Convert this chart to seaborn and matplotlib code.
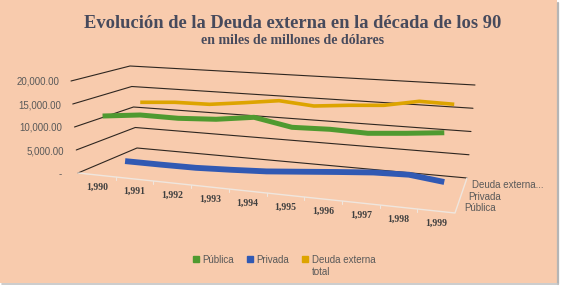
import matplotlib
matplotlib.use("Agg")
import matplotlib.pyplot as plt
import numpy as np
import pandas as pd
import seaborn as sns
from matplotlib.lines import Line2D
from matplotlib.patches import Rectangle

# datos (millones de USD)
anios = ["1,990", "1,991", "1,992", "1,993", "1,994", "1,995", "1,996", "1,997", "1,998", "1,999"]
publica = [12040, 12940, 12890, 13330, 14380, 12930, 13150, 12960, 13570, 14280]
privada = [260, 260, 320, 650, 1050, 1720, 2380, 2980, 3210, 2400]
deuda_total = [12220, 12800, 12900, 13830, 14820, 14160, 14840, 15340, 16700, 16540]
series = ["Pública", "Privada", "Deuda externa total"]
etiquetas_fondo = ["Pública", "Privada", "Deuda externa..."]
ticks_y = [0, 5000, 10000, 15000, 20000]
y_max = 20000

colores = {"Pública": "#4F9A30", "Privada": "#3159B3", "Deuda externa total": "#DDA400"}
grosor = {"Pública": 3.6, "Privada": 4.2, "Deuda externa total": 2.6}
fondo = "#F8CBAD"

# caja 3D simulada: esquinas del suelo (px) y vector vertical para y_max
F0, F1 = np.array([78, 173]), np.array([455, 213])
B0, B1 = np.array([137, 148]), np.array([467, 178])
VF0, VF1 = np.array([-7, -92]), np.array([9, -104])
VB0, VB1 = np.array([-7, -82]), np.array([8, -93])


def bilineal(a, b, c, d, u, w):
    return (1 - u) * (1 - w) * a + u * (1 - w) * b + (1 - u) * w * c + u * w * d


def proyectar(u, w, v):
    p = bilineal(F0, F1, B0, B1, u, w) + (v / y_max) * bilineal(VF0, VF1, VB0, VB1, u, w)
    return p[0], p[1]


sns.set_theme(style="white")
plt.rcParams["font.family"] = ["Liberation Sans", "DejaVu Sans"]

fig = plt.figure(figsize=(5.64, 2.87), dpi=100, facecolor="white")
ax = fig.add_axes([0, 0, 1, 1])
ax.add_patch(Rectangle((0, 0), 557, 283, facecolor=fondo, edgecolor="none", zorder=0))
ax.plot([557.5, 557.5], [3, 284], color="#B5B5B5", lw=1.6, zorder=0)
ax.plot([2, 558], [283.6, 283.6], color="#C4C4C4", lw=1.2, zorder=0)

# lineas de division (pared lateral + pared del fondo)
for v in ticks_y:
    pts = [proyectar(0, 0, v), proyectar(0, 1, v), proyectar(1, 1, v)]
    ax.plot([p[0] for p in pts], [p[1] for p in pts], color="#2E2620", lw=0.8, zorder=1)
    x0, y0 = proyectar(0, 0, v)
    txt = "-" if v == 0 else f"{v:,.2f}"
    ax.text(x0 - (16 if v == 0 else 12), y0 + 1, txt, ha="right", va="center",
            fontsize=7, color="#595959")

# bordes del suelo
suelo = [proyectar(0, 0, 0), proyectar(1, 0, 0), proyectar(1, 1, 0)]
ax.plot([p[0] for p in suelo], [p[1] for p in suelo], color="#EFE6DE", lw=1.0, zorder=1)
for k in range(1, len(anios)):
    x, y = proyectar(k / len(anios), 0, 0)
    ax.plot([x, x], [y, y + 3], color="#EFE6DE", lw=0.8, zorder=1)

# etiquetas de categorias
for i, a in enumerate(anios):
    x, y = proyectar((i + 0.5) / len(anios), 0, 0)
    ax.text(x, y + 12, a, ha="center", va="center", fontsize=7, fontweight="bold",
            family="Liberation Serif", color="#3F3F3F")

# etiquetas de profundidad
profundidad = {s: (k + 0.5) / len(series) for k, s in enumerate(series)}
for s, et in zip(series, etiquetas_fondo):
    x, y = proyectar(1, profundidad[s], 0)
    ax.text(x + 7, y + 1, et, ha="left", va="center", fontsize=7, color="#595959")

# series proyectadas
filas = []
for s, vals in zip(series, [publica, privada, deuda_total]):
    for i, v in enumerate(vals):
        x, y = proyectar((i + 0.5) / len(anios), profundidad[s], v)
        filas.append({"serie": s, "anio": anios[i], "px": x, "py": y})
df = pd.DataFrame(filas)

for s in reversed(series):
    sns.lineplot(data=df[df["serie"] == s], x="px", y="py", sort=False, estimator=None,
                 color=colores[s], lw=grosor[s], solid_capstyle="butt", ax=ax,
                 legend=False, zorder=3)

ax.text(293, 24, "Evolución de la Deuda externa en la década de los 90", ha="center",
        va="center", fontsize=13.3, fontweight="bold", family="Liberation Serif", color="#474A5C")
ax.text(293, 41, "en miles de millones de dólares", ha="center", va="center",
        fontsize=10, fontweight="bold", family="Liberation Serif", color="#474A5C")

ax.set_xlim(0, 564)
ax.set_ylim(287, 0)
ax.axis("off")

# leyenda: el texto largo se parte en dos lineas como en Excel
handles = [Line2D([], [], marker="s", ls="", color=colores[s], markersize=4.5) for s in series]
labels = ["Pública", "Privada", "Deuda externa"]
leg = ax.legend(handles, labels, loc="upper center", bbox_to_anchor=(284 / 564, 1 - 246 / 287),
                ncol=3, frameon=False, fontsize=7, handlelength=0.7, handletextpad=0.3,
                columnspacing=1.3, labelcolor="#595959")
fig.canvas.draw()
bb = leg.get_texts()[2].get_window_extent().transformed(ax.transData.inverted())
ax.text(bb.x0, bb.y0 + 2, "total", ha="left", va="top", fontsize=7, color="#595959")

fig.savefig("out.png", dpi=100, facecolor="white")
